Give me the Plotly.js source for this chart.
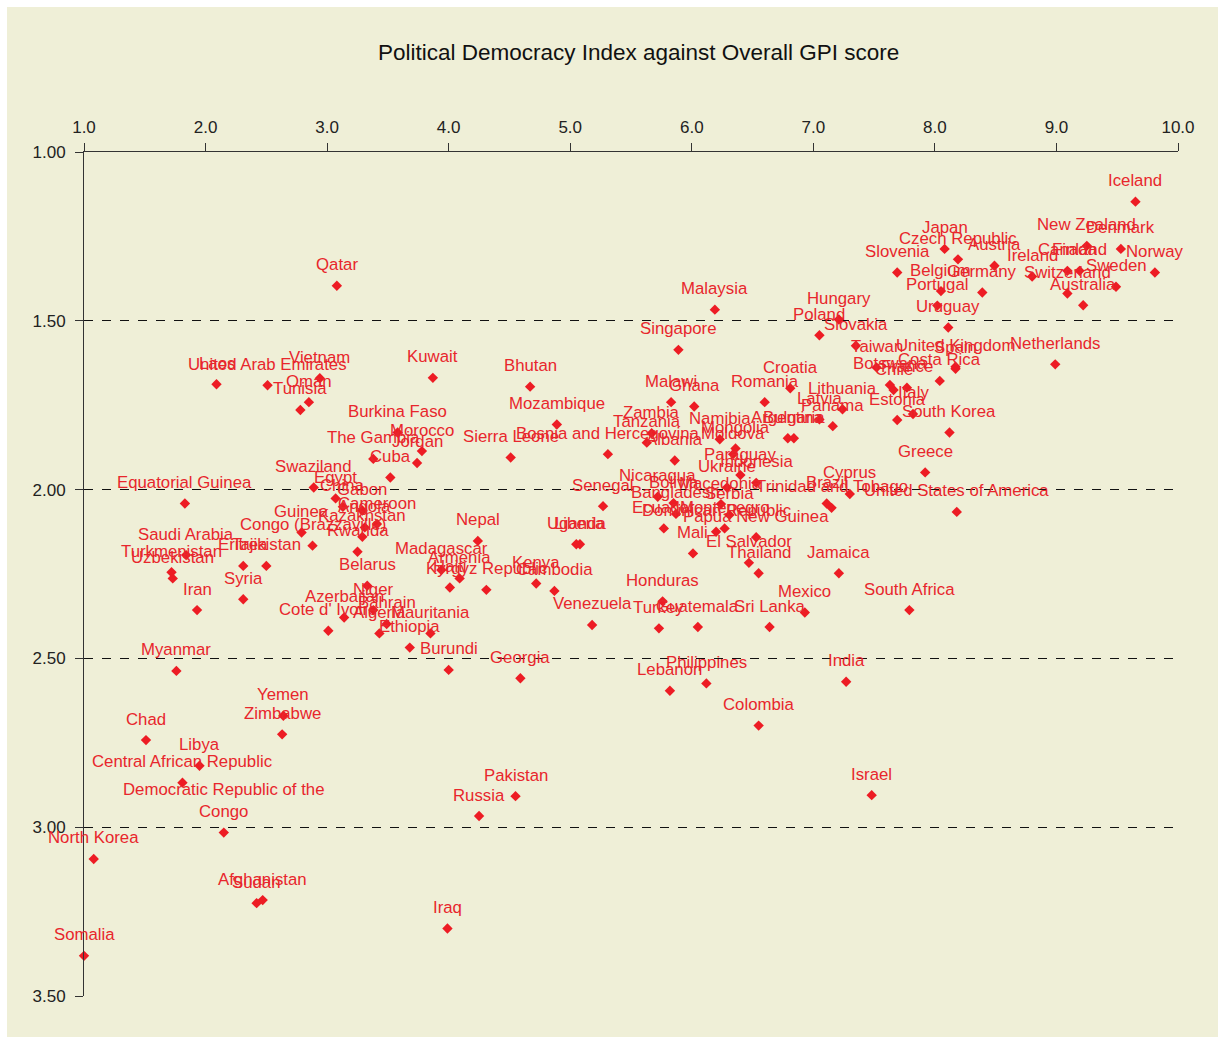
<!DOCTYPE html>
<html>
<head>
<meta charset="utf-8">
<script src="https://cdn.plot.ly/plotly-3.0.1.min.js"></script>
<style>html,body{margin:0;padding:0;background:#fff;}#chart{width:1225px;height:1044px;}</style>
</head>
<body>
<div id="chart"></div>
<script>
const countries = [
"Iceland","New Zealand","Denmark","Norway","Sweden","Finland","Canada","Switzerland","Australia","Ireland",
"Austria","Germany","Czech Republic","Japan","Slovenia","Belgium","Portugal","Uruguay","Netherlands","United Kingdom",
"Spain","Costa Rica","Taiwan","Botswana","France","Chile","Italy","Estonia","South Korea","Hungary",
"Poland","Slovakia","Malaysia","Singapore","Croatia","Romania","Lithuania","Latvia","Panama","Argentina",
"Bulgaria","Malawi","Ghana","Zambia","Tanzania","Namibia","Mongolia","Moldova","Albania","Bosnia and Hercegovina",
"Paraguay","Indonesia","Ukraine","Greece","Cyprus","Brazil","Trinidad and Tobago","United States of America","Nicaragua","Bolivia",
"Macedonia","Bangladesh","Serbia","Ecuador","Montenegro","Dominican Republic","Papua New Guinea","Mali","El Salvador","Thailand",
"Jamaica","Honduras","Turkey","Guatemala","Sri Lanka","Mexico","South Africa","India","Philippines","Lebanon",
"Colombia","Israel","Senegal","Uganda","Liberia","Venezuela","Kenya","Cambodia","Georgia","Pakistan",
"Russia","Iraq","Nepal","Madagascar","Armenia","Haiti","Kyrgyz Republic","Burundi","Ethiopia","Mauritania",
"Algeria","Bahrain","Niger","Azerbaijan","Cote d' Ivoire","Belarus","Rwanda","Kazakhstan","Angola","Cameroon",
"Gabon","China","Egypt","Swaziland","Cuba","The Gambia","Jordan","Morocco","Burkina Faso","Sierra Leone",
"Mozambique","Bhutan","Kuwait","Qatar","Vietnam","Oman","Tunisia","United Arab Emirates","Laos","Equatorial Guinea",
"Guinea","Congo (Brazzaville)","Saudi Arabia","Turkmenistan","Uzbekistan","Eritrea","Tajikistan","Syria","Iran","Myanmar",
"Yemen","Zimbabwe","Chad","Libya","Central African Republic","Democratic Republic of the<br>Congo","North Korea","Afghanistan","Sudan","Somalia"
];

// Political Democracy Index (x axis)
const democracyIndex = [
9.65,9.25,9.53,9.81,9.49,9.19,9.09,9.09,9.22,8.80,
8.49,8.39,8.19,8.08,7.69,8.05,8.02,8.11,8.99,8.17,
8.17,8.04,7.52,7.63,7.77,7.66,7.82,7.69,8.12,7.21,
7.05,7.35,6.19,5.89,6.81,6.60,7.24,7.05,7.16,6.79,
6.84,5.83,6.02,5.67,5.63,6.23,6.36,6.34,5.86,5.31,
6.40,6.53,6.29,7.92,7.30,7.11,7.15,8.18,5.72,5.85,
6.24,5.87,6.31,5.77,6.27,6.20,6.53,6.01,6.47,6.55,
7.21,5.76,5.73,6.05,6.64,6.93,7.79,7.27,6.12,5.82,
6.55,7.48,5.27,5.05,5.08,5.18,4.72,4.87,4.59,4.55,
4.25,3.99,4.24,3.94,4.09,4.01,4.31,4.00,3.68,3.85,
3.43,3.49,3.38,3.14,3.01,3.33,3.25,3.29,3.31,3.41,
3.29,3.13,3.07,2.89,3.52,3.38,3.74,3.78,3.58,4.51,
4.89,4.67,3.87,3.08,2.94,2.85,2.78,2.51,2.09,1.83,
2.79,2.88,1.84,1.72,1.73,2.31,2.50,2.31,1.93,1.76,
2.64,2.63,1.51,1.95,1.81,2.15,1.08,2.47,2.42,1.00
];

// Overall GPI score (y axis, reversed)
const gpiScore = [
1.147,1.278,1.287,1.357,1.399,1.352,1.352,1.419,1.454,1.369,
1.337,1.416,1.318,1.287,1.357,1.412,1.455,1.520,1.629,1.636,
1.642,1.678,1.638,1.690,1.698,1.705,1.776,1.794,1.831,1.496,
1.543,1.574,1.467,1.586,1.700,1.741,1.762,1.792,1.812,1.848,
1.848,1.741,1.754,1.833,1.861,1.851,1.878,1.895,1.914,1.895,
1.957,1.980,1.994,1.949,2.013,2.041,2.054,2.066,2.021,2.040,
2.043,2.072,2.075,2.115,2.115,2.125,2.141,2.189,2.217,2.248,
2.248,2.331,2.411,2.407,2.407,2.364,2.357,2.569,2.574,2.596,
2.699,2.905,2.049,2.162,2.162,2.401,2.278,2.300,2.559,2.908,
2.967,3.300,2.152,2.238,2.263,2.290,2.297,2.534,2.468,2.426,
2.426,2.398,2.357,2.379,2.418,2.285,2.184,2.140,2.112,2.102,
2.062,2.051,2.026,1.994,1.964,1.909,1.921,1.886,1.831,1.905,
1.807,1.695,1.669,1.396,1.670,1.741,1.764,1.691,1.688,2.041,
2.127,2.166,2.194,2.245,2.263,2.226,2.226,2.325,2.357,2.537,
2.670,2.725,2.742,2.818,2.868,3.016,3.094,3.216,3.225,3.381
];

const xTicks = [1,2,3,4,5,6,7,8,9,10];
const yTicks = [1.0,1.5,2.0,2.5,3.0,3.5];

const red = '#ED1C24';
const labelRed = '#E8262C';
const bg = '#EFEFD7';
const fontFam = '"Liberation Sans", Arial, Helvetica, sans-serif';

const trace = {
  x: democracyIndex,
  y: gpiScore,
  type: 'scatter',
  mode: 'markers',
  marker: {symbol: 'diamond', size: 8, color: red, line: {width: 0}},
  cliponaxis: false,
  hoverinfo: 'skip'
};

const annotations = countries.map((name, i) => ({
  x: democracyIndex[i], y: gpiScore[i], xref: 'x', yref: 'y',
  text: name, showarrow: false, yanchor: 'bottom', xanchor: 'center',
  yshift: 9.5, font: {family: fontFam, size: 16.8, color: labelRed}
}));

const layout = {
  width: 1225, height: 1044,
  paper_bgcolor: '#ffffff',
  plot_bgcolor: 'rgba(0,0,0,0)',
  margin: {l: 84, r: 47, t: 152, b: 48, pad: 0},
  showlegend: false,
  font: {family: fontFam, color: '#222'},
  title: {
    text: 'Political Democracy Index against Overall GPI score',
    font: {family: fontFam, size: 22.5, color: '#111'},
    x: 0.507, xref: 'paper', xanchor: 'center',
    y: 0.950, yref: 'container', yanchor: 'middle'
  },
  xaxis: {
    side: 'top', range: [1, 10], tickvals: xTicks, tickformat: '.1f',
    ticks: 'outside', ticklen: 8, tickcolor: '#333', tickwidth: 1,
    showline: true, linecolor: '#333', linewidth: 1,
    showgrid: false, zeroline: false,
    tickfont: {family: fontFam, size: 17, color: '#222'},
    ticklabelstandoff: 3, fixedrange: true
  },
  yaxis: {
    range: [3.5, 1.0], tickvals: yTicks, tickformat: '.2f',
    ticks: 'outside', ticklen: 8, tickcolor: '#333', tickwidth: 1,
    showline: true, linecolor: '#333', linewidth: 1,
    showgrid: true, gridcolor: '#111', gridwidth: 1, griddash: 'dash',
    zeroline: false,
    tickfont: {family: fontFam, size: 17, color: '#222'},
    ticklabelstandoff: 6, fixedrange: true
  },
  shapes: [{
    type: 'rect', xref: 'paper', yref: 'paper', layer: 'below',
    x0: (7 - 84) / 1094, x1: (1218 - 84) / 1094,
    y0: (996 - 1037) / 844, y1: (996 - 7) / 844,
    fillcolor: bg, line: {width: 0}
  }],
  annotations: annotations
};

Plotly.newPlot('chart', [trace], layout, {staticPlot: true, displayModeBar: false});
</script>
</body>
</html>
